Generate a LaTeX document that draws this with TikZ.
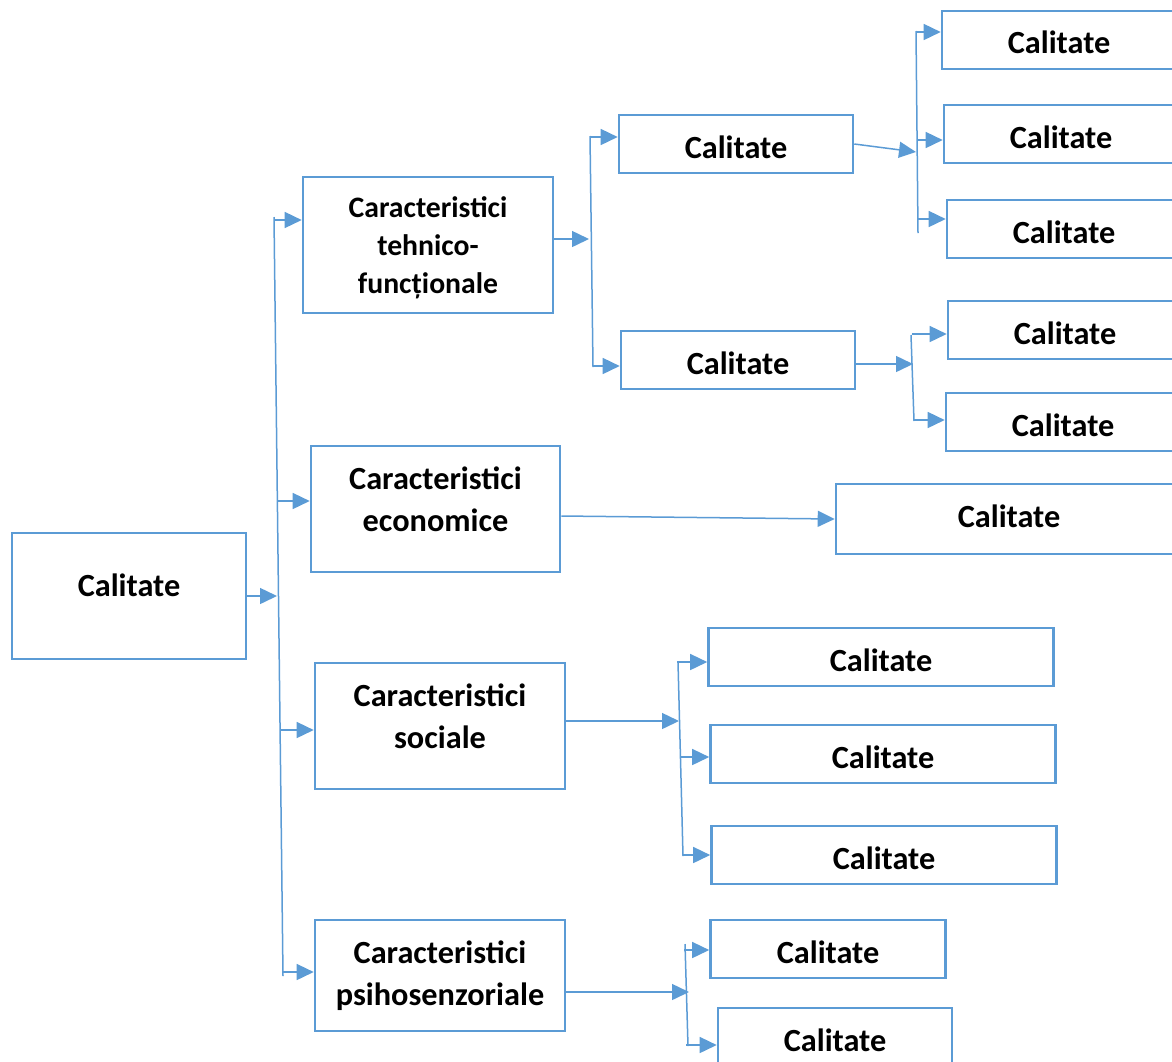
\documentclass[tikz,border=0pt]{standalone}
\usepackage{fontspec}
\setmainfont{Carlito}
\usetikzlibrary{arrows.meta}
\definecolor{bl}{HTML}{5B9BD5}
\newcommand\mybox[6]{\node[box,minimum width=#3,minimum height=#4,
  label={[txt,yshift=#5]center:#6}] (#1) at (#2) {};}
\begin{document}
\begin{tikzpicture}[x=1pt,y=-1pt,
  box/.style={draw=bl,line width=2.6pt,fill=white,inner sep=0pt},
  txt/.style={align=center,inner sep=0pt,font=\fontsize{32.3}{42}\selectfont\bfseries},
  small/.style={font=\fontsize{29.7}{38}\selectfont\bfseries},
  conn/.style={draw=bl,line width=1.5pt},
  arr/.style={conn,-{Triangle[length=17pt,width=16pt]}}]
\useasboundingbox (0,0) rectangle (1172,1061);
\clip (0,0) rectangle (1172,1061);
% level 0
\mybox{root}{129,596}{234pt}{126pt}{11pt}{Calitate}
% level 1
\node[box,minimum width=250pt,minimum height=136pt,
  label={[txt,small,yshift=-3pt]center:Caracteristici\\tehnico-\\funcționale}] (T) at (428,245) {};
\mybox{E}{435.5,509}{249pt}{126pt}{10pt}{Caracteristici\\economice}
\mybox{S}{440,726}{250pt}{126pt}{10pt}{Caracteristici\\sociale}
\mybox{P}{440,975.5}{250pt}{111pt}{0pt}{Caracteristici\\psihosenzoriale}
% level 2
\mybox{T1}{736,144}{234pt}{58pt}{-3pt}{Calitate}
\mybox{T2}{738,360}{234pt}{58pt}{-3pt}{Calitate}
\mybox{E1}{1009,519}{346pt}{70pt}{3pt}{Calitate}
\mybox{S1}{881,657}{345pt}{58pt}{-3pt}{Calitate}
\mybox{S2}{883,754}{345pt}{58pt}{-3.5pt}{Calitate}
\mybox{S3}{884,855}{345pt}{58pt}{-3pt}{Calitate}
\mybox{P1}{828,949}{235pt}{58pt}{-3.5pt}{Calitate}
\mybox{P2}{835,1037}{234pt}{58pt}{-3pt}{Calitate}
% level 3
\mybox{T1a}{1059,40}{234pt}{58pt}{-2.5pt}{Calitate}
\mybox{T1b}{1061,134}{234pt}{58pt}{-3pt}{Calitate}
\mybox{T1c}{1064,229}{234pt}{58pt}{-3pt}{Calitate}
\mybox{T2a}{1065,330}{234pt}{58pt}{-3pt}{Calitate}
\mybox{T2b}{1063,422}{234pt}{58pt}{-3pt}{Calitate}
% main bracket
\coordinate (m0) at (274,217);
\coordinate (m5) at (283,976);
\coordinate (m1) at (275,220);
\coordinate (m2) at (278,501);
\coordinate (m3) at (281,730);
\coordinate (m4) at (283,972);
\coordinate (mr) at (277,596);
\draw[conn] (m0) -- (m5);
\draw[arr] (root.east) -- (mr);
\draw[arr] (m1) -- (T.west |- m1);
\draw[arr] (m2) -- (E.west |- m2);
\draw[arr] (m3) -- (S.west |- m3);
\draw[arr] (m4) -- (P.west |- m4);
% tehnico bracket
\coordinate (t0) at (590,136);
\coordinate (t3) at (593,367);
\coordinate (t1) at (590,137);
\coordinate (t2) at (593,366);
\coordinate (tm) at (589,239);
\draw[conn] (t0) -- (t3);
\draw[arr] (T.east |- tm) -- (tm);
\draw[arr] (t1) -- (T1.west |- t1);
\draw[arr] (t2) -- (T2.west |- t2);
% T1 bracket
\coordinate (a0) at (916,31);
\coordinate (a4) at (918,233);
\coordinate (a1) at (917,32);
\coordinate (a2) at (918,140);
\coordinate (a3) at (918,219);
\coordinate (am) at (916,152);
\draw[conn] (a0) -- (a4);
\draw[arr] (T1.east) -- (am);
\draw[arr] (a1) -- (T1a.west |- a1);
\draw[arr] (a2) -- (T1b.west |- a2);
\draw[arr] (a3) -- (T1c.west |- a3);
% T2 bracket
\coordinate (b0) at (911,335);
\coordinate (b3) at (914,421);
\coordinate (b1) at (912,334);
\coordinate (b2) at (914,420);
\coordinate (bm) at (913,364);
\draw[conn] (b0) -- (b3);
\draw[arr] (T2.east |- bm) -- (bm);
\draw[arr] (b1) -- (T2a.west |- b1);
\draw[arr] (b2) -- (T2b.west |- b2);
% economice
\draw[arr] (E.east |- 0,516) -- (E1.west);
% sociale bracket
\coordinate (s0) at (678,662);
\coordinate (s4) at (683,856);
\coordinate (s1) at (677,662);
\coordinate (s2) at (680,757);
\coordinate (s3) at (683,855);
\coordinate (sm) at (679,721);
\draw[conn] (s0) -- (s4);
\draw[arr] (S.east |- sm) -- (sm);
\draw[arr] (s1) -- (S1.west |- s1);
\draw[arr] (s2) -- (S2.west |- s2);
\draw[arr] (s3) -- (S3.west |- s3);
% psihosenzoriale bracket
\coordinate (p0) at (685,944);
\coordinate (p3) at (688,1046);
\coordinate (p1) at (684,950);
\coordinate (p2) at (686,1045);
\coordinate (pm) at (689,992);
\draw[conn] (p0) -- (p3);
\draw[arr] (P.east |- pm) -- (pm);
\draw[arr] (p1) -- (P1.west |- p1);
\draw[arr] (p2) -- (P2.west |- p2);
\end{tikzpicture}
\end{document}
